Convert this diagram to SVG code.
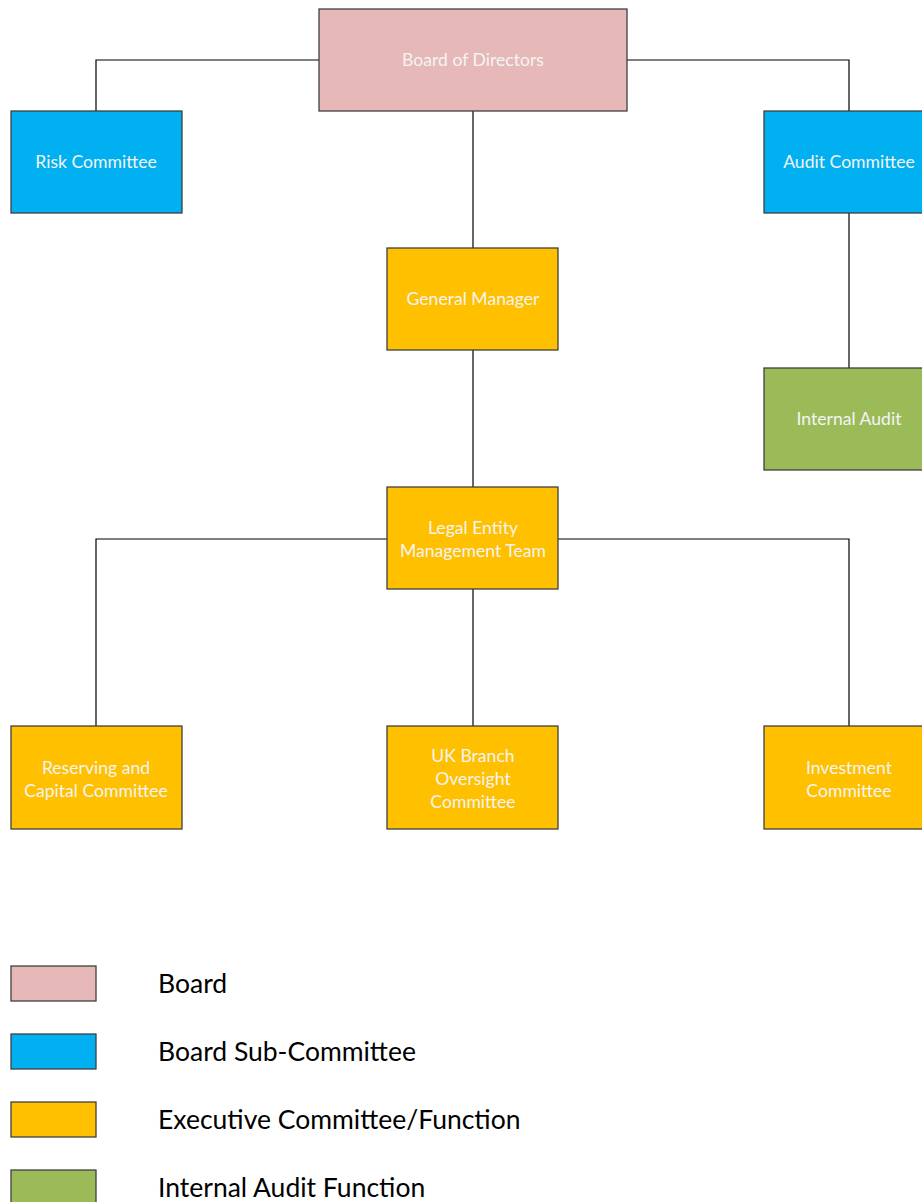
<svg xmlns="http://www.w3.org/2000/svg" width="922" height="1202" viewBox="0 0 922 1202">
<style>
.box{stroke:#404040;stroke-width:1.3}
.board{fill:#E6B8B7}
.blue{fill:#00B0F0}
.orange{fill:#FFC000}
.green{fill:#9BBB59}
.lbl{font-family:Lato,"Open Sans",sans-serif;font-size:17.6px;fill:#F4F4F4;text-anchor:middle;dominant-baseline:central}
.leg{font-family:Lato,"Open Sans",sans-serif;font-size:26.5px;fill:#000}
.conn{fill:none;stroke:#000;stroke-width:1.2}
</style>
<rect width="922" height="1202" fill="#fff"/>
<g id="connectors" class="conn">
<path d="M319 60H96V111"/>
<path d="M627 60H849V111"/>
<path d="M473 111V248"/>
<path d="M473 350V487"/>
<path d="M849 213V368"/>
<path d="M387 539H96V726"/>
<path d="M558 539H849V726"/>
<path d="M473 589V726"/>
</g>
<g id="board"><rect class="box board" x="319" y="9" width="308" height="102"/><text class="lbl" x="473" y="59">Board of Directors</text></g>
<g id="risk"><rect class="box blue" x="11" y="111" width="171" height="102"/><text class="lbl" x="96" y="161">Risk Committee</text></g>
<g id="audit"><rect class="box blue" x="764" y="111" width="171" height="102"/><text class="lbl" x="849" y="161">Audit Committee</text></g>
<g id="gm"><rect class="box orange" x="387" y="248" width="171" height="102"/><text class="lbl" x="473" y="298">General Manager</text></g>
<g id="internal-audit"><rect class="box green" x="764" y="368" width="171" height="102"/><text class="lbl" x="849" y="418">Internal Audit</text></g>
<g id="lemt"><rect class="box orange" x="387" y="487" width="171" height="102"/><text class="lbl" x="473" y="527">Legal Entity</text><text class="lbl" x="473" y="550">Management Team</text></g>
<g id="reserving"><rect class="box orange" x="11" y="726" width="171" height="103"/><text class="lbl" x="96" y="767">Reserving and</text><text class="lbl" x="96" y="790">Capital Committee</text></g>
<g id="uk-branch"><rect class="box orange" x="387" y="726" width="171" height="103"/><text class="lbl" x="473" y="755">UK Branch</text><text class="lbl" x="473" y="778">Oversight</text><text class="lbl" x="473" y="801">Committee</text></g>
<g id="investment"><rect class="box orange" x="764" y="726" width="171" height="103"/><text class="lbl" x="849" y="767">Investment</text><text class="lbl" x="849" y="790">Committee</text></g>
<g id="legend">
<rect class="box board" x="11" y="966" width="85" height="35"/>
<text class="leg" x="158" y="993">Board</text>
<rect class="box blue" x="11" y="1034" width="85" height="35"/>
<text class="leg" x="158" y="1061">Board Sub-Committee</text>
<rect class="box orange" x="11" y="1102" width="85" height="35"/>
<text class="leg" x="158" y="1129">Executive Committee/Function</text>
<rect class="box green" x="11" y="1170" width="85" height="40"/>
<text class="leg" x="158" y="1197">Internal Audit Function</text>
</g>
</svg>
